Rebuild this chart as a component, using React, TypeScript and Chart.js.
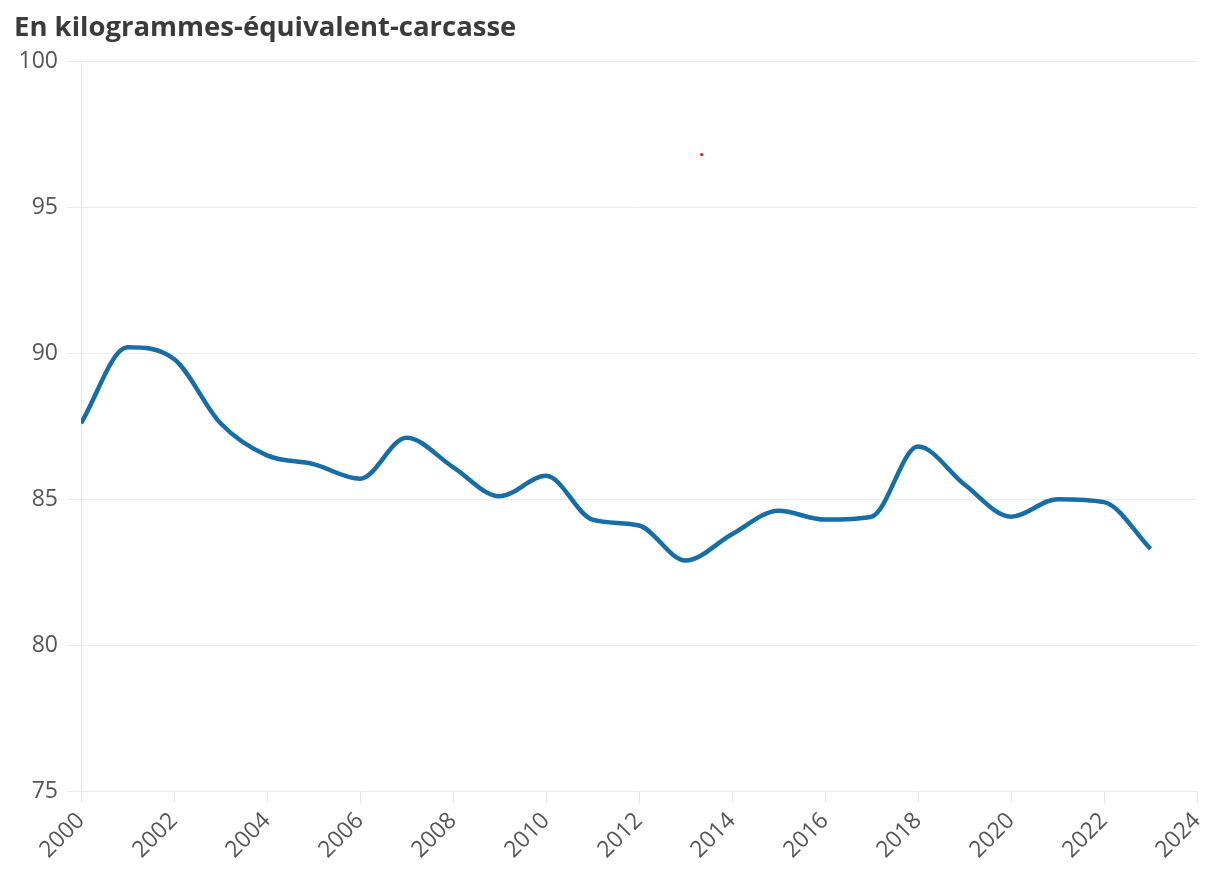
import React, { useEffect, useRef } from "react";
import { Chart, registerables } from "chart.js";

Chart.register(...registerables);

const TITLE = "En kilogrammes-équivalent-carcasse";
const years = [2000, 2001, 2002, 2003, 2004, 2005, 2006, 2007, 2008, 2009, 2010, 2011, 2012, 2013, 2014, 2015, 2016, 2017, 2018, 2019, 2020, 2021, 2022, 2023];
const values = [87.6, 90.2, 89.8, 87.6, 86.5, 86.2, 85.7, 87.1, 86.1, 85.1, 85.8, 84.3, 84.1, 82.9, 83.8, 84.6, 84.3, 84.4, 86.8, 85.5, 84.4, 85.0, 84.9, 83.3];
const dotX = [2013.35];
const dotY = [96.8];
const yTicks = [75, 80, 85, 90, 95, 100];
const xTicks = [2000, 2002, 2004, 2006, 2008, 2010, 2012, 2014, 2016, 2018, 2020, 2022, 2024];

export default function App() {
  const ref = useRef<HTMLCanvasElement | null>(null);

  useEffect(() => {
    if (!ref.current) return;
    const chart = new Chart(ref.current, {
      type: "line",
      data: {
        datasets: [
          {
            data: years.map((y, i) => ({ x: y, y: values[i] })),
            borderColor: "#176ea6",
            borderWidth: 4.5,
            pointRadius: 0,
            cubicInterpolationMode: "monotone",
            fill: false,
          },
          {
            data: dotX.map((x, i) => ({ x, y: dotY[i] })),
            showLine: false,
            pointRadius: 1.6,
            pointBackgroundColor: "#e0102a",
            pointBorderWidth: 0,
          },
        ],
      },
      options: {
        animation: false,
        responsive: false,
        maintainAspectRatio: false,
        layout: { padding: { left: 14, right: 14, top: 10, bottom: 8 } },
        plugins: {
          legend: { display: false },
          tooltip: { enabled: false },
          title: {
            display: true,
            text: TITLE,
            align: "start",
            color: "#3b3b3b",
            font: { family: "Open Sans", size: 27.5, weight: "bold" },
            padding: { top: 2, bottom: 16 },
          },
        },
        scales: {
          x: {
            type: "linear",
            min: 2000,
            max: 2024,
            afterBuildTicks: (s: any) => {
              s.ticks = xTicks.map((v) => ({ value: v }));
            },
            afterFit: (s: any) => {
              s.paddingRight = 14;
              s.paddingLeft = 0;
            },
            ticks: {
              minRotation: 45,
              maxRotation: 45,
              autoSkip: false,
              color: "#555555",
              font: { family: "Open Sans", size: 23 },
              padding: 4,
              callback: (v: any) => String(v),
            },
            grid: {
              drawOnChartArea: false,
              drawTicks: true,
              tickLength: 12,
              color: "#e6e6e6",
            },
            border: { display: false },
          },
          y: {
            min: 75,
            max: 100,
            afterBuildTicks: (s: any) => {
              s.ticks = yTicks.map((v) => ({ value: v }));
            },
            afterFit: (s: any) => {
              s.width = 67;
            },
            ticks: {
              color: "#555555",
              font: { family: "Open Sans", size: 23 },
              padding: 9,
            },
            grid: {
              color: "#ebebeb",
              tickLength: 14,
              lineWidth: 1,
            },
            border: { display: true, color: "#e6e6e6" },
          },
        },
      },
    });
    return () => chart.destroy();
  }, []);

  return (
    <div style={{ position: "fixed", left: 0, top: 0, width: 1211, height: 876, background: "#fff" }}>
      <canvas ref={ref} width={1211} height={876} style={{ width: 1211, height: 876 }} />
    </div>
  );
}
